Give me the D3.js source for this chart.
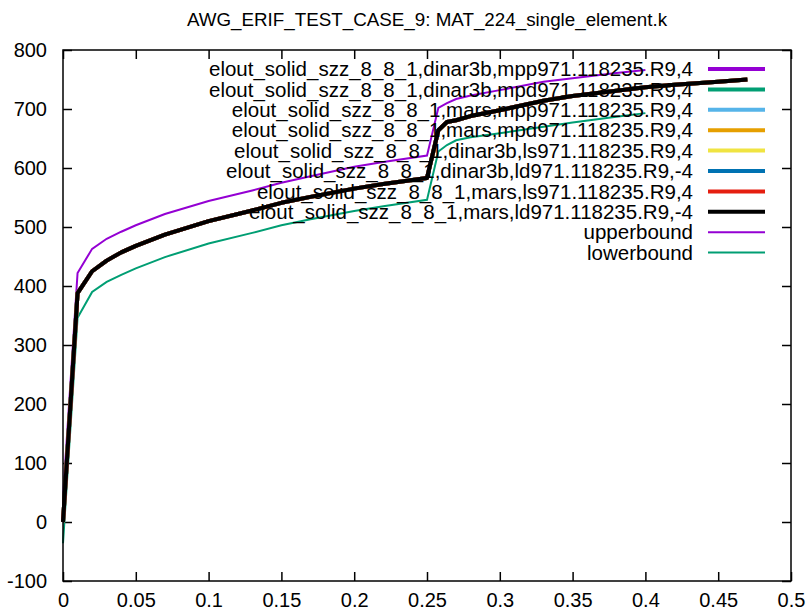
<!DOCTYPE html>
<html>
<head>
<meta charset="utf-8">
<script src="https://cdn.jsdelivr.net/npm/d3@7"></script>
<style>
  body { margin: 0; background: #fff; }
  text { font-family: "Liberation Sans", Arial, sans-serif; font-size: 20px; fill: #000; }
</style>
</head>
<body>
<div id="chart"></div>
<script>
const width = 809, height = 612
const margin = {top: 50, right: 18, bottom: 31, left: 63}

const title = 'AWG_ERIF_TEST_CASE_9: MAT_224_single_element.k'

// simulation curve (all eight runs lie on top of each other)
const simX = [0, 0.01, 0.02, 0.03, 0.04, 0.05, 0.07, 0.1, 0.13, 0.15, 0.17, 0.2, 0.22, 0.25,
  0.2578, 0.2637, 0.27, 0.28, 0.3, 0.33, 0.35, 0.38, 0.4, 0.42, 0.45, 0.47]
const simY = [0, 388, 425, 443, 457, 468, 487, 510, 528, 541, 551, 565, 573, 583,
  664, 678, 681, 688, 698, 714, 722, 731, 737, 741, 746, 750]

// bounds
const boundX = [0, 0.01, 0.02, 0.03, 0.04, 0.05, 0.07, 0.1, 0.13, 0.15, 0.17, 0.2, 0.22, 0.25,
  0.2578, 0.2637, 0.27, 0.28, 0.3, 0.33, 0.35, 0.38, 0.4]
const upperY = [42, 422, 463, 480, 492, 503, 522, 544, 562, 575, 586, 602, 610, 621,
  702, 710, 717, 723, 732, 746, 752, 761, 766]
const lowerY = [-36, 346, 390, 407, 419, 430, 449, 472, 490, 503, 513, 527, 535, 546,
  628, 639, 647, 652, 659, 670, 677, 687, 693]

const seriesNames = [
  'elout_solid_szz_8_8_1,dinar3b,mpp971.118235.R9,4',
  'elout_solid_szz_8_8_1,dinar3b,mpd971.118235.R9,4',
  'elout_solid_szz_8_8_1,mars,mpp971.118235.R9,4',
  'elout_solid_szz_8_8_1,mars,mpd971.118235.R9,4',
  'elout_solid_szz_8_8_1,dinar3b,ls971.118235.R9,4',
  'elout_solid_szz_8_8_1,dinar3b,ld971.118235.R9,-4',
  'elout_solid_szz_8_8_1,mars,ls971.118235.R9,4',
  'elout_solid_szz_8_8_1,mars,ld971.118235.R9,-4'
]
const seriesColors = ['#9400d3', '#009e73', '#56b4e9', '#e69f00', '#f0e442', '#0072b2', '#e51e10', '#000000']

const xTicks = [0, 0.05, 0.1, 0.15, 0.2, 0.25, 0.3, 0.35, 0.4, 0.45, 0.5]
const yTicks = [-100, 0, 100, 200, 300, 400, 500, 600, 700, 800]

const svg = d3.select('#chart').append('svg')
  .attr('width', width)
  .attr('height', height)

const x = d3.scaleLinear().domain([0, 0.5]).range([margin.left, width - margin.right])
const y = d3.scaleLinear().domain([-100, 800]).range([height - margin.bottom, margin.top])

const tickLen = 9

// ticks on all four sides, pointing inward
svg.append('g')
  .attr('transform', `translate(0,${height - margin.bottom})`)
  .call(d3.axisBottom(x).tickValues(xTicks).tickSize(-tickLen).tickPadding(12)
    .tickFormat(d => String(d)))
  .call(g => g.select('.domain').remove())
svg.append('g')
  .attr('transform', `translate(0,${margin.top})`)
  .call(d3.axisTop(x).tickValues(xTicks).tickSize(-tickLen).tickFormat(''))
  .call(g => g.select('.domain').remove())
svg.append('g')
  .attr('transform', `translate(${margin.left},0)`)
  .call(d3.axisLeft(y).tickValues(yTicks).tickSize(-tickLen).tickPadding(16)
    .tickFormat(d => String(d)))
  .call(g => g.select('.domain').remove())
svg.append('g')
  .attr('transform', `translate(${width - margin.right},0)`)
  .call(d3.axisRight(y).tickValues(yTicks).tickSize(-tickLen).tickFormat(''))
  .call(g => g.select('.domain').remove())

svg.selectAll('.tick line').attr('stroke', '#000').attr('stroke-width', 1.5)
svg.selectAll('.tick text')
  .style('font-family', '"Liberation Sans", Arial, sans-serif')
  .style('font-size', '20px')
  .attr('fill', '#000')

const line = d3.line().x(d => x(d[0])).y(d => y(d[1]))

const plot = svg.append('g')

// bounds first, runs on top
plot.append('path')
  .datum(boundX.map((v, i) => [v, upperY[i]]))
  .attr('d', line).attr('fill', 'none')
  .attr('stroke', '#9400d3').attr('stroke-width', 2)
plot.append('path')
  .datum(boundX.map((v, i) => [v, lowerY[i]]))
  .attr('d', line).attr('fill', 'none')
  .attr('stroke', '#009e73').attr('stroke-width', 2)

seriesNames.forEach((name, i) => {
  plot.append('path')
    .datum(simX.map((v, j) => [v, simY[j]]))
    .attr('d', line).attr('fill', 'none')
    .attr('stroke', seriesColors[i]).attr('stroke-width', 4)
    .attr('stroke-linejoin', 'round')
})

// frame
svg.append('rect')
  .attr('x', margin.left).attr('y', margin.top)
  .attr('width', width - margin.left - margin.right)
  .attr('height', height - margin.top - margin.bottom)
  .attr('fill', 'none').attr('stroke', '#000').attr('stroke-width', 1.5)

// legend
const legendItems = seriesNames.map((n, i) => ({name: n, color: seriesColors[i], w: 4}))
  .concat([{name: 'upperbound', color: '#9400d3', w: 2}, {name: 'lowerbound', color: '#009e73', w: 2}])

const legend = svg.append('g')
legend.selectAll('g')
  .data(legendItems)
  .enter().append('g')
  .attr('transform', (d, i) => `translate(0,${69 + i * 20.4})`)
  .each(function (d) {
    const g = d3.select(this)
    g.append('text')
      .attr('x', 693).attr('dy', '0.35em')
      .attr('text-anchor', 'end')
      .style('font-size', '20.5px')
      .text(d.name)
    g.append('line')
      .attr('x1', 708).attr('x2', 765)
      .attr('stroke', d.color).attr('stroke-width', d.w)
  })

svg.append('text')
  .attr('x', (margin.left + width - margin.right) / 2)
  .attr('y', 26)
  .attr('text-anchor', 'middle')
  .style('font-size', '18.8px')
  .text(title)
</script>
</body>
</html>
